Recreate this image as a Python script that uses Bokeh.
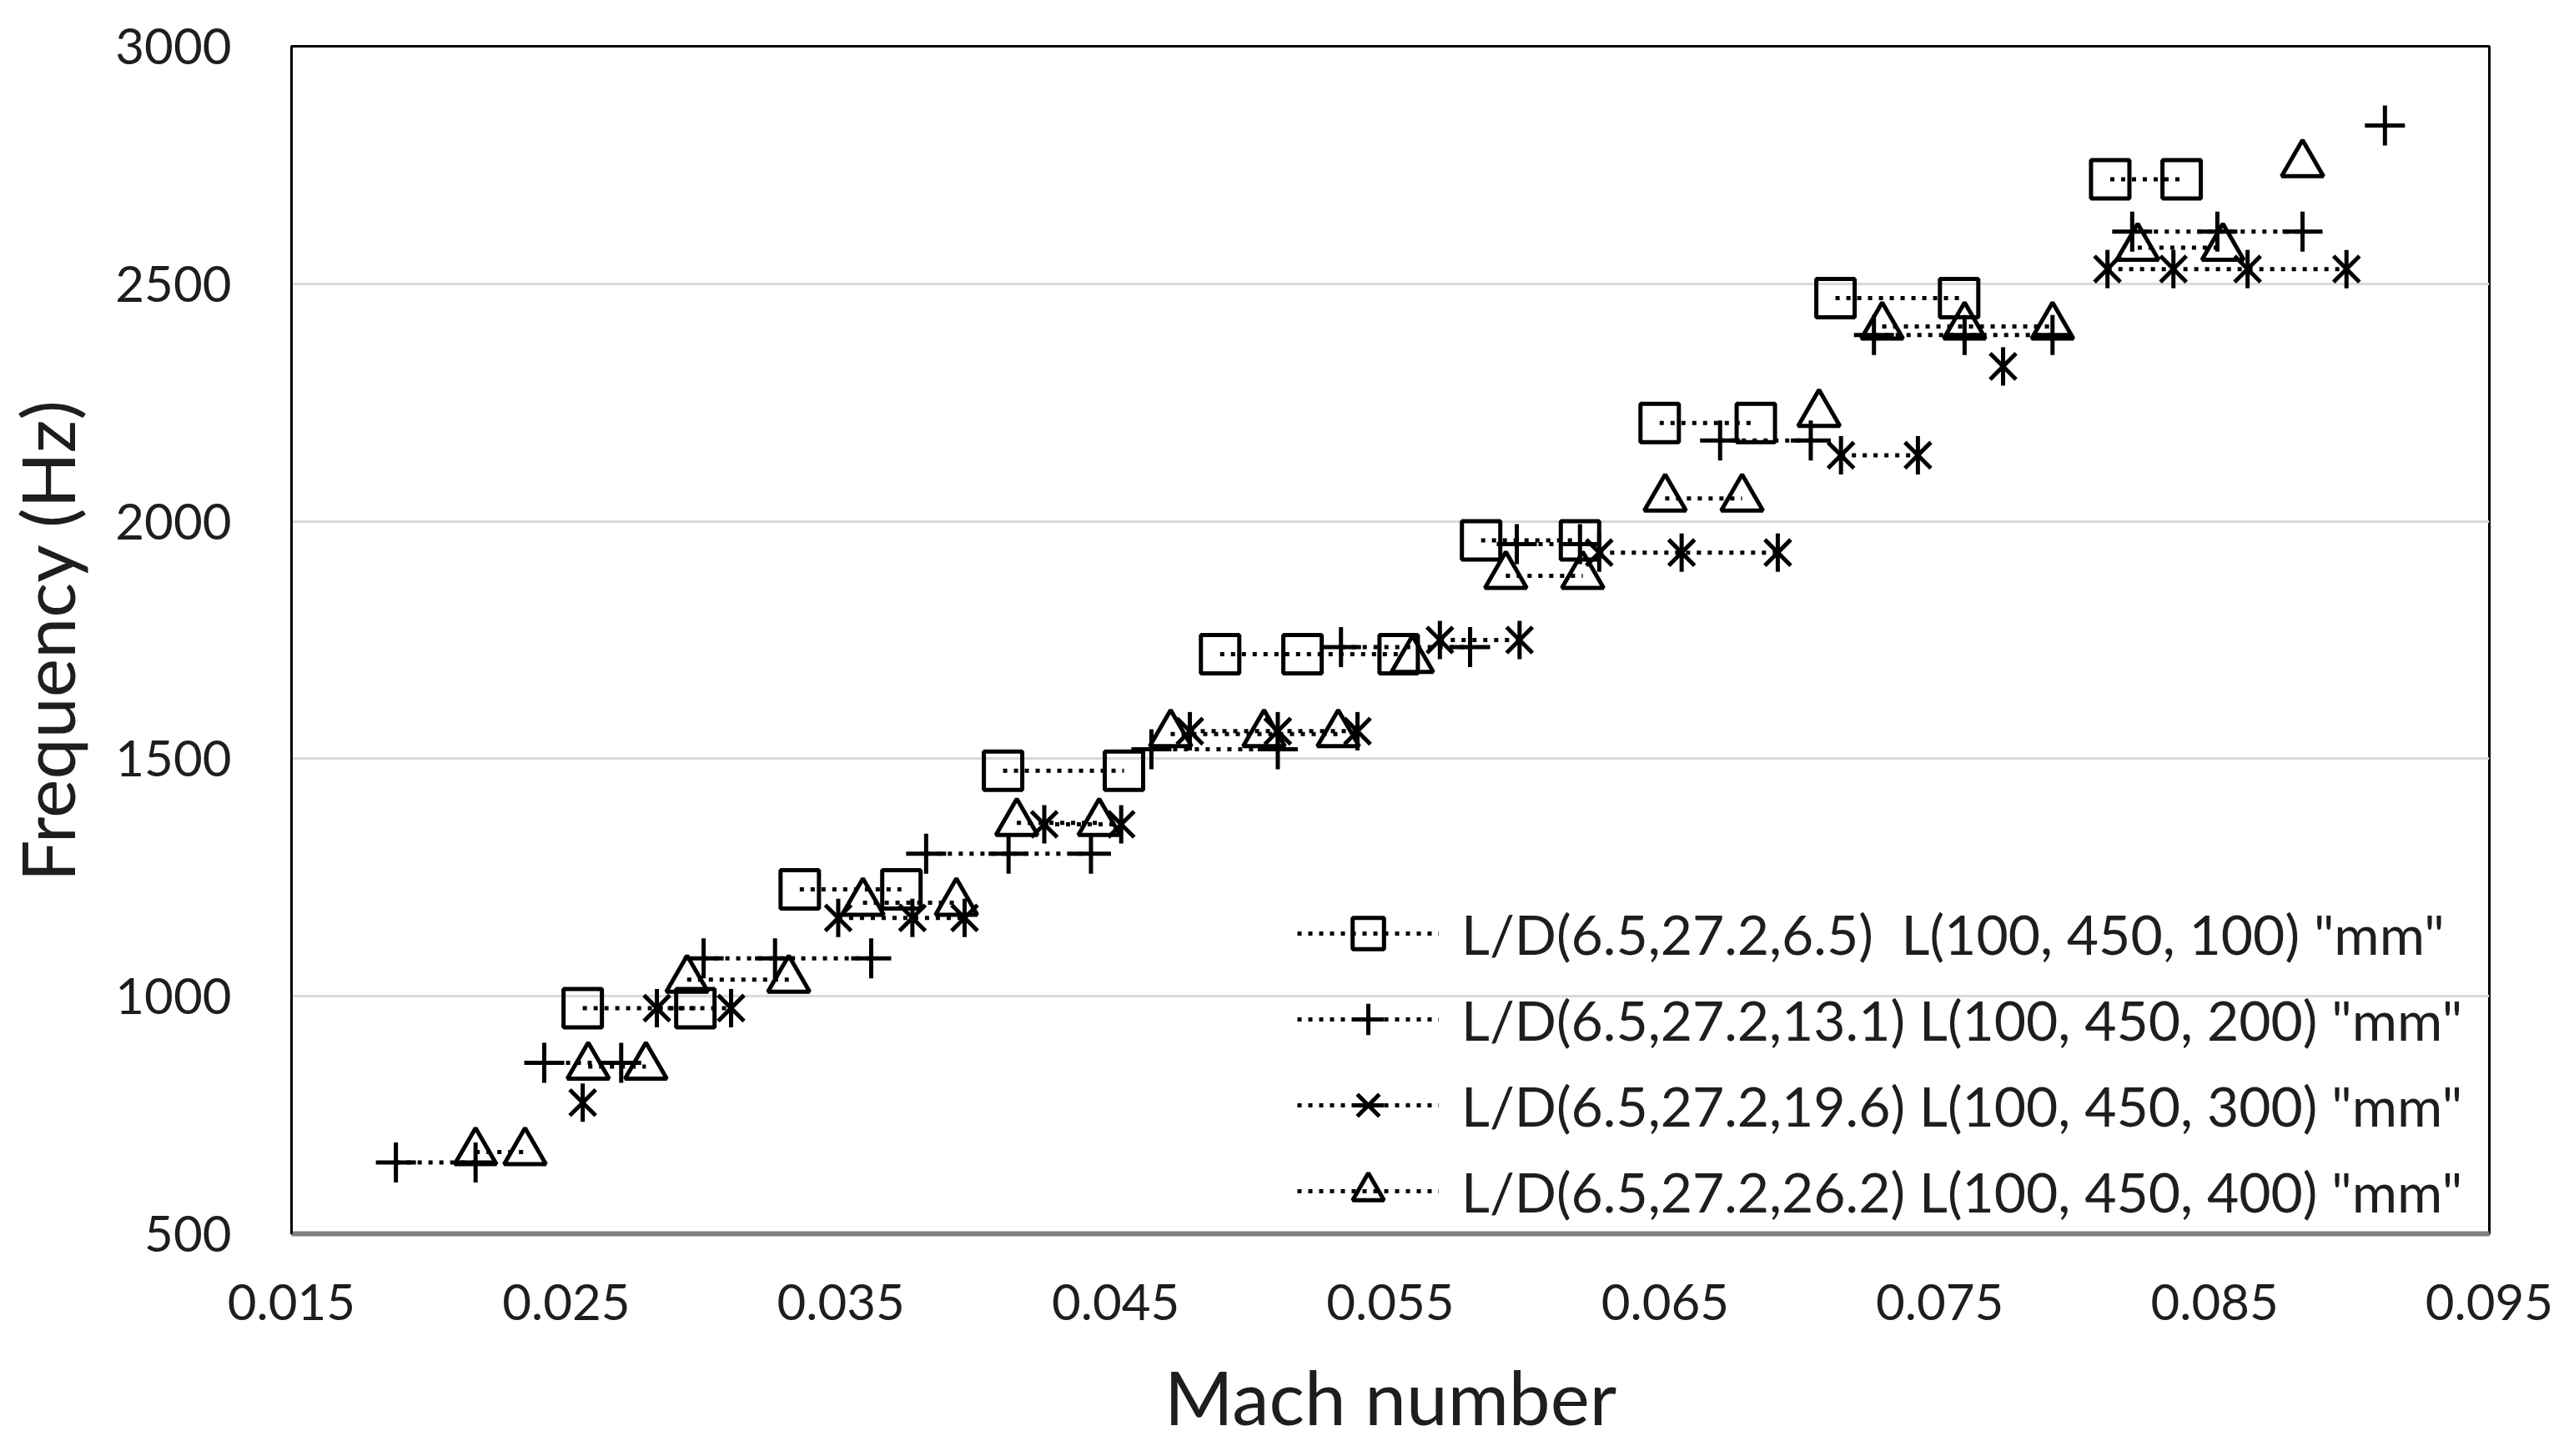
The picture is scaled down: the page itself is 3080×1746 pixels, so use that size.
import math
from bokeh.plotting import figure
from bokeh.layouts import column
from bokeh.models import FixedTicker, PrintfTickFormatter, Legend, LegendItem
from bokeh.embed import file_html
from bokeh.resources import INLINE

# ---- data ----
x_ticks = [0.015, 0.025, 0.035, 0.045, 0.055, 0.065, 0.075, 0.085, 0.095]
y_ticks = [500, 1000, 1500, 2000, 2500, 3000]

names = [
    'L/D(6.5,27.2,6.5)  L(100, 450, 100) "mm"',
    'L/D(6.5,27.2,13.1) L(100, 450, 200) "mm"',
    'L/D(6.5,27.2,19.6) L(100, 450, 300) "mm"',
    'L/D(6.5,27.2,26.2) L(100, 450, 400) "mm"',
]

sq_mach = [0.0256, 0.0297, 0.0335, 0.0372, 0.0409, 0.0453, 0.0488, 0.0518, 0.0553,
           0.0583, 0.0619, 0.0648, 0.0683, 0.0712, 0.0757, 0.0812, 0.0838]
sq_freq = [975, 975, 1225, 1225, 1475, 1475, 1720, 1720, 1720,
           1960, 1960, 2207, 2207, 2470, 2470, 2720, 2720]

pl_mach = [0.0188, 0.0217, 0.0242, 0.0270, 0.0300, 0.0326, 0.0361, 0.0381, 0.0411,
           0.0441, 0.0463, 0.0509, 0.0532, 0.0579, 0.0596, 0.0619, 0.0670, 0.0703,
           0.0726, 0.0759, 0.0791, 0.0820, 0.0851, 0.0882, 0.0912]
pl_freq = [650, 650, 860, 860, 1080, 1080, 1080, 1300, 1300,
           1300, 1520, 1520, 1735, 1735, 1952, 1952, 2170, 2170,
           2392, 2392, 2392, 2610, 2610, 2610, 2833]

as_mach = [0.0256, 0.0283, 0.0310, 0.0349, 0.0376, 0.0395, 0.0424, 0.0452, 0.0477,
           0.0509, 0.0538, 0.0568, 0.0597, 0.0626, 0.0656, 0.0691, 0.0714, 0.0742,
           0.0773, 0.0811, 0.0835, 0.0862, 0.0898]
as_freq = [776, 975, 975, 1165, 1165, 1165, 1362, 1362, 1558,
           1558, 1558, 1750, 1750, 1934, 1934, 1934, 2139, 2139,
           2326, 2531, 2531, 2531, 2531]

tr_mach = [0.0217, 0.0235, 0.0258, 0.0279, 0.0294, 0.0331, 0.0358, 0.0392, 0.0414,
           0.0444, 0.0470, 0.0504, 0.0531, 0.0558, 0.0592, 0.0620, 0.0650, 0.0678,
           0.0706, 0.0729, 0.0759, 0.0791, 0.0822, 0.0853, 0.0882]
tr_freq = [672, 672, 852, 852, 1035, 1035, 1197, 1197, 1365,
           1365, 1552, 1552, 1552, 1708, 1885, 1885, 2048, 2048,
           2226, 2410, 2410, 2410, 2576, 2576, 2752]


def gapped(m, f):
    """Break the dotted line wherever the frequency changes."""
    xs, ys = [], []
    for i in range(len(m)):
        if i > 0 and f[i] != f[i - 1]:
            xs.append(float("nan"))
            ys.append(float("nan"))
        xs.append(m[i])
        ys.append(f[i])
    return xs, ys


FONT = "Lato"
TXT = "#1e1e1e"
W = 3064
H_MAIN = 1613
H_TITLE = 117

p = figure(width=W, height=H_MAIN, output_backend="svg", toolbar_location=None,
           x_range=(x_ticks[0], x_ticks[-1]), y_range=(y_ticks[0], y_ticks[-1]),
           min_border_left=345, min_border_right=80, min_border_top=55,
           min_border_bottom=134)
p.background_fill_color = "white"
p.border_fill_color = "white"
p.outline_line_color = "black"
p.outline_line_width = 3

p.xgrid.visible = False
p.ygrid.grid_line_color = "#d9d9d9"
p.ygrid.grid_line_width = 3

p.xaxis.ticker = FixedTicker(ticks=x_ticks)
p.yaxis.ticker = FixedTicker(ticks=y_ticks)
p.xaxis.formatter = PrintfTickFormatter(format="%.3f")
p.yaxis.formatter = PrintfTickFormatter(format="%d")

for ax in (p.xaxis, p.yaxis):
    ax.major_tick_line_color = None
    ax.minor_tick_line_color = None
    ax.major_tick_out = 0
    ax.major_tick_in = 0
    ax.major_label_text_font = FONT
    ax.major_label_text_font_size = "60px"
    ax.major_label_text_color = TXT
    ax.axis_label_text_font = FONT
    ax.axis_label_text_font_size = "88px"
    ax.axis_label_text_font_style = "normal"
    ax.axis_label_text_color = TXT

p.yaxis.axis_label = "Frequency (Hz)"
p.xaxis.axis_line_color = "#7f7f7f"
p.xaxis.axis_line_width = 6
p.yaxis.axis_line_color = "black"
p.yaxis.axis_line_width = 3
p.xaxis.major_label_standoff = 60
p.yaxis.major_label_standoff = 72
p.yaxis.axis_label_standoff = 26

DOT = dict(line_color="black", line_width=5, line_dash="5 8")
MK = dict(line_color="black", line_width=5, fill_alpha=0)

items = []

# squares
lx, ly = gapped(sq_mach, sq_freq)
r1 = p.line(lx, ly, **DOT)
r2 = p.scatter(sq_mach, sq_freq, marker="square", size=46, **MK)
items.append(LegendItem(label=names[0], renderers=[r1, r2]))

# plus
lx, ly = gapped(pl_mach, pl_freq)
r1 = p.line(lx, ly, **DOT)
r2 = p.scatter(pl_mach, pl_freq, marker="cross", size=48, **MK)
items.append(LegendItem(label=names[1], renderers=[r1, r2]))

# asterisk (x + vertical bar)
lx, ly = gapped(as_mach, as_freq)
r1 = p.line(lx, ly, **DOT)
r2 = p.scatter(as_mach, as_freq, marker="x", size=44, **MK)
r3 = p.scatter(as_mach, as_freq, marker="dash", size=46, angle=math.pi / 2, **MK)
items.append(LegendItem(label=names[2], renderers=[r1, r2, r3]))

# triangles
lx, ly = gapped(tr_mach, tr_freq)
r1 = p.line(lx, ly, **DOT)
r2 = p.scatter(tr_mach, tr_freq, marker="triangle", size=50, **MK)
items.append(LegendItem(label=names[3], renderers=[r1, r2]))

legend = Legend(items=items, location=(1206, 4), orientation="vertical")
legend.label_text_font = FONT
legend.label_text_font_size = "66px"
legend.label_text_color = TXT
legend.glyph_width = 170
legend.glyph_height = 94
legend.label_height = 94
legend.label_standoff = 27
legend.spacing = 9
legend.padding = 0
legend.margin = 0
legend.border_line_alpha = 0
legend.background_fill_alpha = 0
p.add_layout(legend)

# x-axis title strip: an axis with no ticks whose label is the title;
# its frame lines up with the main plot's frame inside the column
t = figure(width=W, height=H_TITLE, output_backend="svg", toolbar_location=None,
           x_range=p.x_range, y_range=(0, 1), y_axis_type=None, min_border=0)
t.outline_line_color = None
t.background_fill_color = "white"
t.border_fill_color = "white"
t.grid.visible = False
t.xaxis.ticker = FixedTicker(ticks=[])
t.xaxis.axis_line_color = None
t.xaxis.major_tick_line_color = None
t.xaxis.minor_tick_line_color = None
t.xaxis.major_label_standoff = 0
t.xaxis.axis_label_standoff = 0
t.xaxis.axis_label = "Mach number"
t.xaxis.axis_label_text_font = FONT
t.xaxis.axis_label_text_font_size = "89px"
t.xaxis.axis_label_text_font_style = "normal"
t.xaxis.axis_label_text_color = TXT

layout = column(p, t, spacing=0)
open("out.html", "w").write(file_html(layout, INLINE))
